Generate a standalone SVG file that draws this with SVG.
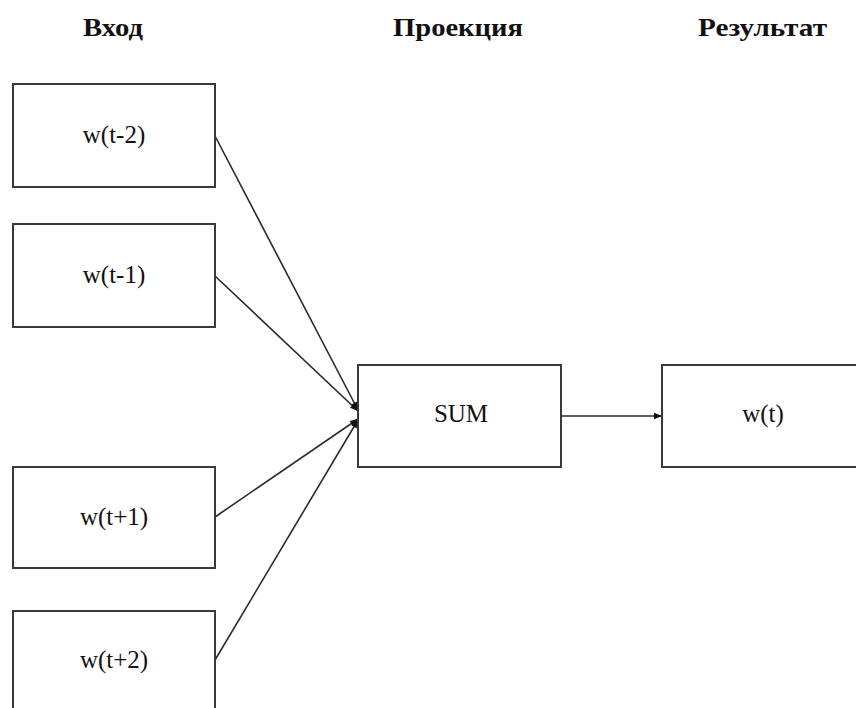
<svg xmlns="http://www.w3.org/2000/svg" width="856" height="708" viewBox="0 0 856 708">
  <style>
    .box { fill: #ffffff; stroke: #3a3a3a; stroke-width: 2; }
    .lbl { font-family: "Liberation Serif", "Times New Roman", serif; font-size: 25px; fill: #111; text-anchor: middle; }
    .hdr { font-family: "Liberation Serif", "Times New Roman", serif; font-size: 25px; font-weight: bold; fill: #111; }
    .edge { stroke: #2a2a2a; stroke-width: 1.6; fill: none; marker-end: url(#arrow); }
  </style>
  <defs>
    <marker id="arrow" viewBox="0 0 10 10" refX="10" refY="5" markerWidth="9" markerHeight="8" markerUnits="userSpaceOnUse" orient="auto">
      <path d="M0,1 L10,5 L0,9 Z" fill="#111"/>
    </marker>
  </defs>
  <rect width="856" height="708" fill="#ffffff"/>

  <!-- column headings -->
  <g id="headers">
    <text class="hdr" x="83" y="36" textLength="60" lengthAdjust="spacingAndGlyphs">Вход</text>
    <text class="hdr" x="393" y="36" textLength="130" lengthAdjust="spacingAndGlyphs">Проекция</text>
    <text class="hdr" x="698" y="36" textLength="129" lengthAdjust="spacingAndGlyphs">Результат</text>
  </g>

  <!-- connectors -->
  <g id="connectors">
    <line class="edge" x1="215" y1="136" x2="358" y2="410"/>
    <line class="edge" x1="215" y1="276" x2="358" y2="411"/>
    <line class="edge" x1="215" y1="517" x2="358" y2="419"/>
    <line class="edge" x1="215" y1="660" x2="358" y2="420"/>
    <line class="edge" x1="561" y1="416" x2="662" y2="416"/>
  </g>

  <!-- input words -->
  <g id="in-t-2">
    <rect class="box" x="13" y="84" width="202" height="103"/>
    <text class="lbl" x="114" y="143">w(t-2)</text>
  </g>
  <g id="in-t-1">
    <rect class="box" x="13" y="224" width="202" height="103"/>
    <text class="lbl" x="114" y="283">w(t-1)</text>
  </g>
  <g id="in-t+1">
    <rect class="box" x="13" y="467" width="202" height="101"/>
    <text class="lbl" x="114" y="525">w(t+1)</text>
  </g>
  <g id="in-t+2">
    <rect class="box" x="13" y="611" width="202" height="103"/>
    <text class="lbl" x="114" y="668">w(t+2)</text>
  </g>

  <!-- projection -->
  <g id="sum">
    <rect class="box" x="358" y="365" width="203" height="102"/>
    <text class="lbl" x="461" y="422">SUM</text>
  </g>

  <!-- output word -->
  <g id="out-t">
    <rect class="box" x="662" y="365" width="203" height="102"/>
    <text class="lbl" x="763" y="422">w(t)</text>
  </g>
</svg>
